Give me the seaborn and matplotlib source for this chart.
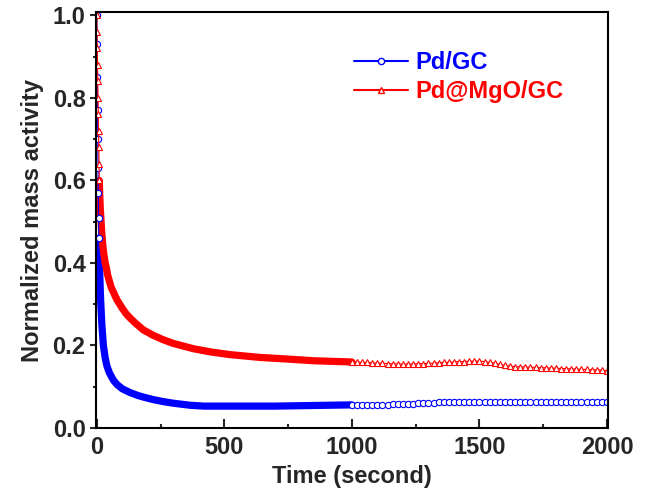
import matplotlib
matplotlib.use('Agg')
import matplotlib.pyplot as plt
import seaborn as sns
from matplotlib.lines import Line2D
from matplotlib.ticker import MultipleLocator, FormatStrFormatter

# Pd/GC: first seconds (fast drop), dense part up to 1000 s, sparse part after
blue_early_t = [0, 1, 2, 3, 4, 5, 6, 7, 8]
blue_early = [1.0, 0.93, 0.85, 0.77, 0.70, 0.63, 0.57, 0.51, 0.46]
blue_t = [8, 10, 12, 14, 16, 20, 26, 33, 40, 50, 65, 80, 100, 130, 160, 182,
          220, 260, 300, 367, 420, 500, 600, 700, 800, 900, 1000]
blue = [0.46, 0.41, 0.37, 0.33, 0.30, 0.25, 0.20, 0.17, 0.15, 0.133, 0.116,
        0.105, 0.095, 0.086, 0.079, 0.075, 0.069, 0.064, 0.060, 0.055, 0.053,
        0.053, 0.053, 0.053, 0.054, 0.055, 0.056]

# Pd@MgO/GC
red_early_t = [0, 1, 2, 3, 4, 5, 6, 7, 8, 9, 10]
red_early = [1.0, 0.96, 0.92, 0.88, 0.84, 0.80, 0.76, 0.72, 0.68, 0.64, 0.60]
red_t = [10, 12, 14, 17, 20, 24, 28, 33, 37, 43, 50, 57, 65, 72, 80, 90, 100,
         115, 130, 150, 182, 220, 260, 300, 380, 450, 520, 640, 750, 850, 1000]
red = [0.60, 0.56, 0.53, 0.50, 0.47, 0.44, 0.42, 0.40, 0.39, 0.37, 0.355, 0.34,
       0.33, 0.32, 0.31, 0.30, 0.29, 0.277, 0.267, 0.255, 0.238, 0.225, 0.214,
       0.205, 0.192, 0.184, 0.178, 0.171, 0.167, 0.163, 0.160]

# 1000-2000 s, every 20 s
late_t = list(range(1000, 2001, 20))
blue_late = [0.056, 0.056, 0.056, 0.055, 0.055, 0.055, 0.056, 0.056, 0.057, 0.057,
             0.058, 0.059, 0.059, 0.060, 0.060, 0.061, 0.061, 0.062, 0.062, 0.063,
             0.063, 0.063, 0.064, 0.064, 0.064, 0.064, 0.064, 0.064, 0.064, 0.064,
             0.064, 0.064, 0.064, 0.064, 0.064, 0.064, 0.064, 0.064, 0.064, 0.064,
             0.064, 0.064, 0.064, 0.064, 0.064, 0.064, 0.064, 0.064, 0.064, 0.064,
             0.064]
red_late = [0.160, 0.160, 0.159, 0.159, 0.158, 0.157, 0.157, 0.156, 0.156, 0.155,
            0.155, 0.155, 0.155, 0.156, 0.156, 0.157, 0.157, 0.158, 0.159, 0.159,
            0.160, 0.161, 0.161, 0.162, 0.162, 0.162, 0.161, 0.159, 0.157, 0.154,
            0.152, 0.150, 0.149, 0.148, 0.148, 0.147, 0.147, 0.146, 0.146, 0.145,
            0.145, 0.144, 0.144, 0.143, 0.143, 0.142, 0.142, 0.141, 0.141, 0.140,
            0.139]

BLUE = '#0000ff'
RED = '#ff0000'

sns.set_style('ticks')
plt.rcParams['font.family'] = ['Liberation Sans', 'DejaVu Sans']
plt.rcParams['font.weight'] = 'bold'
plt.rcParams['axes.labelweight'] = 'bold'

fig = plt.figure(figsize=(6.46, 4.88), dpi=100)
ax = fig.add_axes([0.1486, 0.123, 0.7926, 0.852])

# dense part of both curves drawn as a thick line
for t, y, c in [(blue_t, blue, BLUE), (red_t, red, RED)]:
    sns.lineplot(x=t, y=y, color=c, linewidth=5.2, sort=False, estimator=None, ax=ax)

# sparse parts with open markers
for t, y, c, m in [(blue_early_t, blue_early, BLUE, 'o'), (late_t, blue_late, BLUE, 'o'),
                   (red_early_t, red_early, RED, '^'), (late_t, red_late, RED, '^')]:
    sns.lineplot(x=t, y=y, color=c, linewidth=0.8, marker=m, markersize=4.5,
                 markerfacecolor='white', markeredgecolor=c, markeredgewidth=0.8,
                 sort=False, estimator=None, ax=ax)

ax.set_xlim(-3, 2004)
ax.set_ylim(0, 1.008)
ax.xaxis.set_major_locator(MultipleLocator(500))
ax.xaxis.set_minor_locator(MultipleLocator(250))
ax.yaxis.set_major_locator(MultipleLocator(0.2))
ax.yaxis.set_minor_locator(MultipleLocator(0.1))
ax.yaxis.set_major_formatter(FormatStrFormatter('%.1f'))

for s in ax.spines.values():
    s.set_linewidth(1.5)
    s.set_color('black')
    s.set_visible(True)

ax.tick_params(axis='x', which='major', direction='in', length=6.5, width=1.5,
               labelsize=17, pad=6)
ax.tick_params(axis='x', which='minor', direction='in', length=3, width=1.5)
ax.tick_params(axis='y', which='major', direction='out', length=4.5, width=1.5,
               labelsize=17, pad=3)
ax.tick_params(axis='y', which='minor', direction='out', length=2.5, width=1.5)
for lab in ax.get_xticklabels() + ax.get_yticklabels():
    lab.set_fontweight('bold')

ax.set_xlabel('Time (second)', fontsize=17, fontweight='bold', labelpad=4)
ax.set_ylabel('Normalized mass activity', fontsize=17, fontweight='bold', labelpad=6)

handles = [
    Line2D([], [], color=BLUE, lw=1.5, marker='o', markersize=4.5,
           markerfacecolor='white', markeredgecolor=BLUE, markeredgewidth=1),
    Line2D([], [], color=RED, lw=1.5, marker='^', markersize=4.5,
           markerfacecolor='white', markeredgecolor=RED, markeredgewidth=1),
]
leg = ax.legend(handles, ['Pd/GC', 'Pd@MgO/GC'], loc='upper left',
                bbox_to_anchor=(0.462, 0.957), frameon=False, handlelength=2.3,
                handletextpad=0.3, labelspacing=0.25,
                prop={'size': 17, 'weight': 'bold'},
                labelcolor=[BLUE, RED])

fig.savefig('out.png', dpi=100)
